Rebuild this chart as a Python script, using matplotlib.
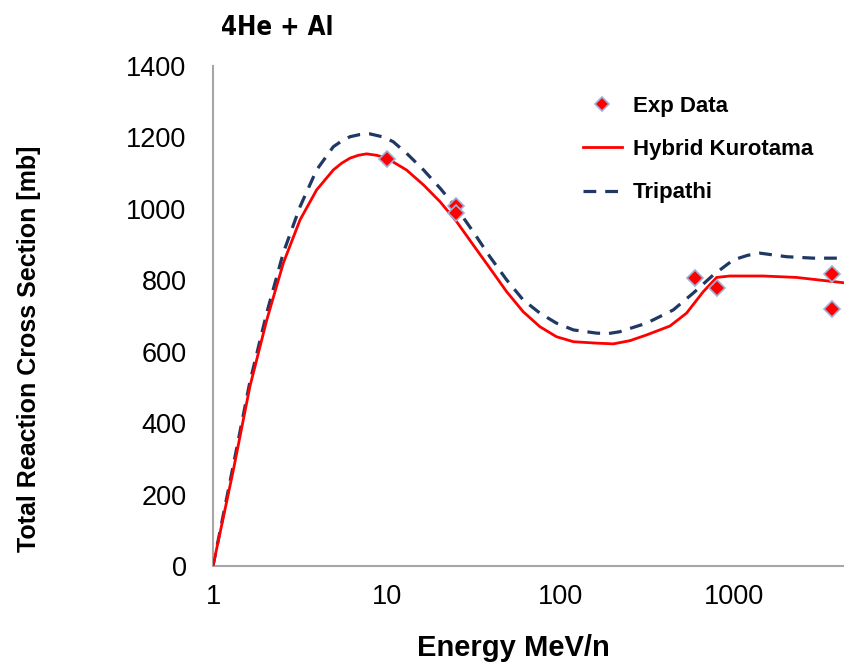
import matplotlib
matplotlib.use('Agg')
import matplotlib.pyplot as plt

plt.rcParams['font.family'] = ['Liberation Sans', 'DejaVu Sans']

# curves
e_hk = [1, 1.31, 1.63, 2.04, 2.54, 3.17, 3.95, 4.93, 5.51, 6.15, 6.87, 7.67, 8.75, 10, 13.0,
        16.3, 20.3, 25.3, 31.5, 39.3, 49.1, 61.1, 76.3, 95, 119, 162, 202, 252, 314, 428,
        533, 665, 795, 947, 1472, 2290, 4300]
hk = [0, 269, 502, 689, 848, 969, 1053, 1109, 1128, 1142, 1150, 1154, 1150, 1142, 1109,
      1067, 1020, 964, 899, 834, 768, 712, 670, 642, 628, 624, 622, 631, 647, 672,
      708, 768, 808, 812, 812, 808, 793]

e_tr = [1, 1.31, 1.63, 2.04, 2.54, 3.17, 3.95, 4.93, 5.51, 6.15, 7.0, 8.0, 9.6, 10.9, 13.0,
        16.3, 20.3, 25.3, 31.5, 39.3, 49.1, 61.1, 76.3, 95, 119, 162, 190, 220, 314, 447,
        582, 760, 990, 1200, 1410, 2010, 2860, 4300]
tr = [0, 283, 515, 709, 877, 1006, 1109, 1174, 1190, 1202, 1208, 1210, 1201, 1188, 1156,
      1109, 1058, 1002, 936, 866, 801, 745, 708, 680, 661, 652, 651, 656, 680, 717,
      764, 815, 857, 870, 876, 866, 862, 862]

e_exp = [10, 25, 25, 600, 800, 3660, 3660]
exp = [1140, 1008, 989, 807, 779, 818, 720]

xticks = [1, 10, 100, 1000]
xlabels = ['1', '10', '100', '1000']
yticks = [0, 200, 400, 600, 800, 1000, 1200, 1400]

fig = plt.figure(figsize=(8.44, 6.70), dpi=100)
ax = fig.add_axes([213/844, 1-566/670, 631/844, 500/670])

ax.plot(e_tr, tr, color='#1F3864', lw=2.3, ls=(0, (4, 2.8)), label='Tripathi', zorder=2)
ax.plot(e_hk, hk, color='#FF0000', lw=2.0, label='Hybrid Kurotama', zorder=3)
ax.plot(e_exp, exp, ls='none', marker='D', ms=8.5, mfc='#FF0000', mec='#9DB0D8', mew=1.2,
        label='Exp Data', zorder=4)

ax.set_xscale('log')
ax.set_xlim(1, 4300)
ax.set_ylim(0, 1400)
ax.set_xticks(xticks)
ax.set_xticklabels(xlabels)
ax.minorticks_off()
ax.set_yticks(yticks)
ax.tick_params(length=0, labelsize=19.5, colors='black')
ax.tick_params(axis='y', pad=19)
ax.tick_params(axis='x', pad=13)
for s in ['top', 'right']:
    ax.spines[s].set_visible(False)
for s in ['left', 'bottom']:
    ax.spines[s].set_color('#A6A6A6')
    ax.spines[s].set_linewidth(1.5)

ax.set_xlabel('Energy MeV/n', fontsize=21, fontweight='bold')
ax.xaxis.set_label_coords(0.476, -0.135)
ax.set_ylabel('Total Reaction Cross Section [mb]', fontsize=18, fontweight='bold')
ax.yaxis.set_label_coords(-0.272, 0.434)

fig.text(277/844, 1-28/670, '4He + Al', fontsize=18.5, fontweight='bold',
         family=['DejaVu Sans'], fontstretch='condensed', ha='center', va='center')

h, l = ax.get_legend_handles_labels()
order = [2, 1, 0]
leg = ax.legend([h[i] for i in order], [l[i] for i in order], loc='upper left',
                bbox_to_anchor=(583/844, 1-96/670), bbox_transform=fig.transFigure,
                frameon=False, prop={'weight': 'bold', 'size': 16},
                handlelength=1.75, handletextpad=0.5, labelspacing=1.0, borderpad=0,
                borderaxespad=0, markerscale=0.8)

fig.savefig('out.png', dpi=100)
